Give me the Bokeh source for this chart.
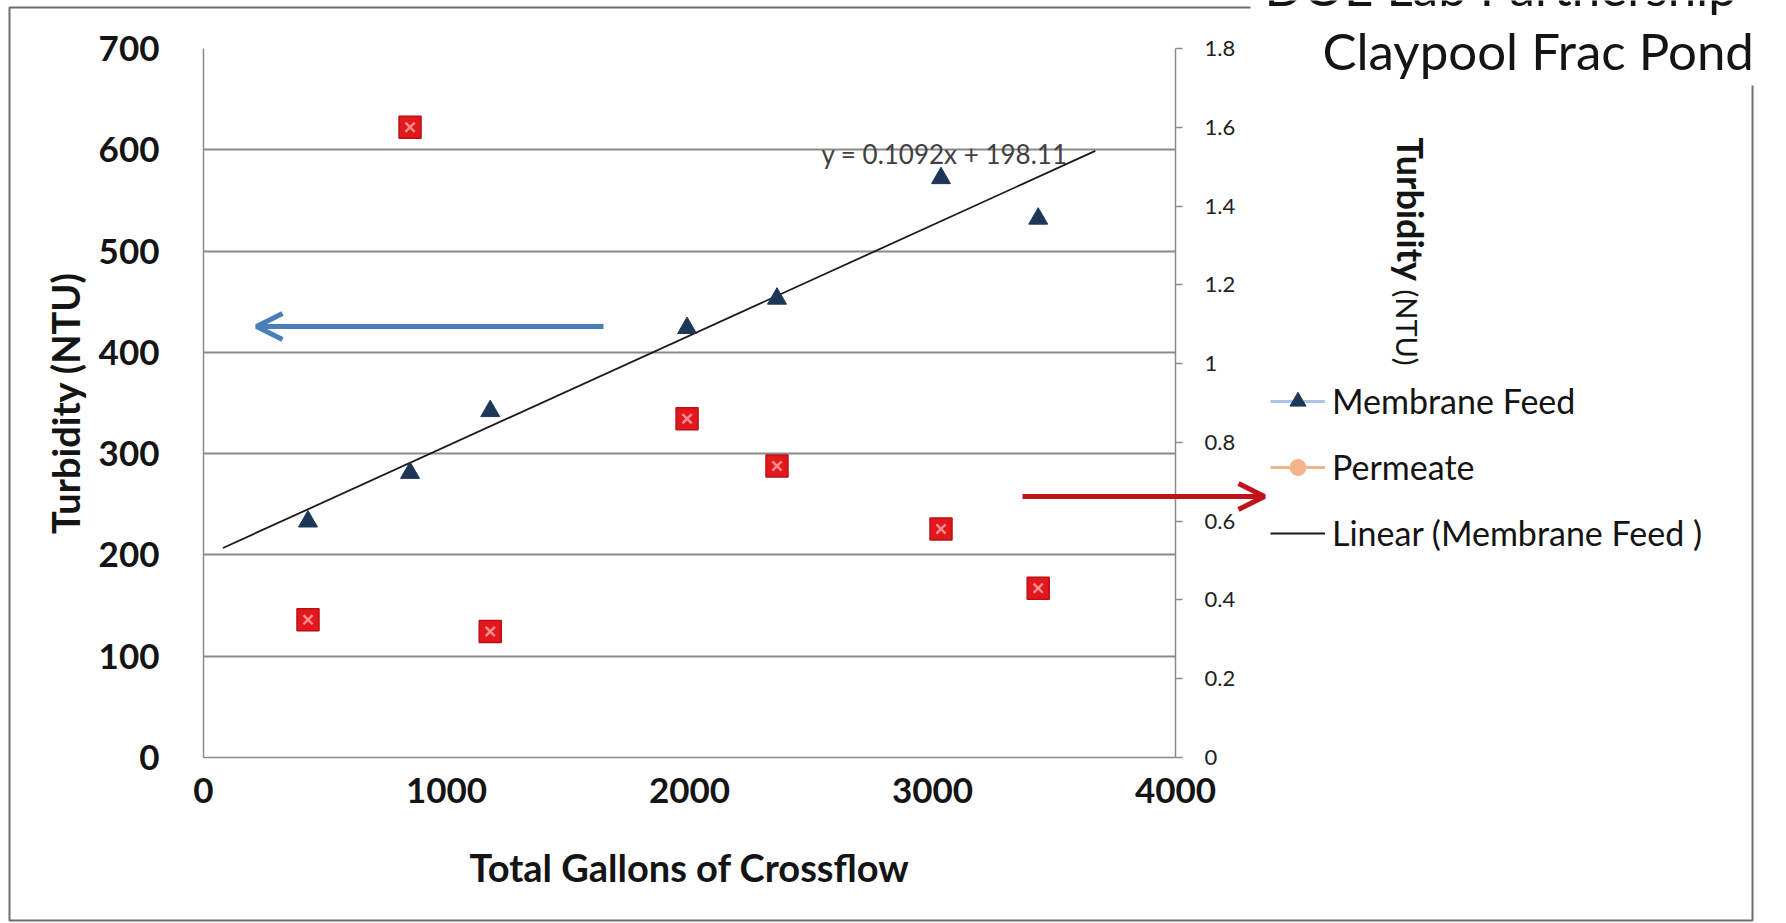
from bokeh.plotting import figure
from bokeh.models import (Range1d, LinearAxis, FixedTicker, Label, Arrow, OpenHead,
                          Legend, LegendItem, ColumnDataSource, GridBox, Column)
from bokeh.embed import file_html
from bokeh.resources import INLINE
import math

# ---------------- data ----------------
gallons = [430, 850, 1180, 1990, 2360, 3035, 3435]
membrane_feed = [233, 281, 342, 424, 453, 572, 532]          # NTU, left axis
permeate = [0.35, 1.60, 0.32, 0.86, 0.74, 0.58, 0.43]         # NTU, right axis
trend_slope = 0.1092
trend_intercept = 198.11
trend_x = [80, 3670]
x_ticks = [0, 1000, 2000, 3000, 4000]
x_tick_labels = ["0", "1000", "2000", "3000", "4000"]
left_ticks = [0, 100, 200, 300, 400, 500, 600, 700]
left_tick_labels = ["0", "100", "200", "300", "400", "500", "600", "700"]
right_ticks = [0, 0.2, 0.4, 0.6, 0.8, 1.0, 1.2, 1.4, 1.6, 1.8]
right_tick_labels = ["0", "0.2", "0.4", "0.6", "0.8", "1", "1.2", "1.4", "1.6", "1.8"]
legend_labels = ["Membrane Feed", "Permeate", "Linear (Membrane Feed )"]
trend_y = [trend_slope * v + trend_intercept for v in trend_x]

W, H = 1786, 923
FL, FR, FT, FB = 203, 1175, 48, 757   # frame in px
XMAX, YMAX, Y2MAX = 4000, 700, 1.8

def dx(px):
    return (px - FL) / (FR - FL) * XMAX

def dy(py):
    return (FB - py) / (FB - FT) * YMAX

FONT = "Lato"
GRID = "#8a8a8a"
INK = "#141414"

# ---------------- main chart ----------------
p = figure(width=W, height=H, output_backend="svg", toolbar_location=None,
           x_range=Range1d(0, XMAX), y_range=Range1d(0, YMAX),
           min_border_left=FL, min_border_right=W - FR, min_border_top=FT,
           min_border_bottom=H - FB, outline_line_color=None,
           background_fill_color="white", border_fill_color="white")
p.extra_y_ranges = {"right": Range1d(0, Y2MAX)}

p.xaxis.ticker = FixedTicker(ticks=x_ticks)
p.xaxis.major_label_overrides = {t: l for t, l in zip(x_ticks, x_tick_labels)}
p.yaxis.ticker = FixedTicker(ticks=left_ticks)
p.yaxis.major_label_overrides = {t: l for t, l in zip(left_ticks, left_tick_labels)}
for ax in (p.xaxis[0], p.yaxis[0]):
    ax.major_tick_line_color = None
    ax.minor_tick_line_color = None
    ax.axis_line_color = GRID
    ax.axis_line_width = 1.5
    ax.major_label_text_font = FONT
    ax.major_label_text_font_style = "bold"
    ax.major_label_text_font_size = "35px"
    ax.major_label_text_color = INK
    ax.axis_label_text_font = FONT
    ax.axis_label_text_font_style = "bold"
    ax.axis_label_text_font_size = "38px"
    ax.axis_label_text_color = INK
p.yaxis.major_label_standoff = 38
p.xaxis.major_label_standoff = 14
p.yaxis.axis_label = "Turbidity (NTU)"
p.xaxis.axis_label = "Total Gallons of Crossflow"
p.yaxis.axis_label_standoff = 8
p.xaxis.axis_label_standoff = 38

raxis = LinearAxis(y_range_name="right", ticker=FixedTicker(ticks=right_ticks))
raxis.major_label_overrides = {t: l for t, l in zip(right_ticks, right_tick_labels)}
raxis.axis_line_color = GRID
raxis.axis_line_width = 1.5
raxis.major_tick_line_color = GRID
raxis.major_tick_line_width = 1.5
raxis.major_tick_in = 0
raxis.major_tick_out = 7
raxis.minor_tick_line_color = None
raxis.major_label_standoff = 22
raxis.major_label_text_font = FONT
raxis.major_label_text_font_size = "22px"
raxis.major_label_text_color = "#222222"
p.add_layout(raxis, "right")

p.xgrid.grid_line_color = None
p.ygrid.ticker = FixedTicker(ticks=left_ticks[1:])
p.ygrid.grid_line_color = GRID
p.ygrid.grid_line_width = 1.8

p.line(trend_x, trend_y, line_color="#1a1a1a", line_width=1.8)
p.scatter(gallons, membrane_feed, marker="triangle", size=19,
          fill_color="#1d3757", line_color="#1d3757")
p.scatter(gallons, permeate, y_range_name="right", marker="square", size=22,
          fill_color="#e3181f", line_color="#b81015", line_width=1.5)
p.scatter(gallons, permeate, y_range_name="right", marker="x", size=13,
          line_color="#ff8f8f", line_width=2.4)

p.add_layout(Label(x=dx(944), y=dy(153), text="y = 0.1092x + 198.11",
                   text_align="center", text_baseline="middle", text_font=FONT,
                   text_font_size="26px", text_color="#404040"))

# ---------------- overlay (annotations outside the plot frame) ----------------
ov = figure(width=W, height=H, output_backend="svg", toolbar_location=None,
            x_range=Range1d(0, W), y_range=Range1d(H, 0),
            x_axis_type=None, y_axis_type=None, min_border=0,
            min_border_left=0, min_border_right=0, min_border_top=0, min_border_bottom=0,
            outline_line_color=None, background_fill_color=None,
            border_fill_color=None)
ov.grid.visible = False

# chart-area border
ov.line([1250, 9, 9, 1752, 1752], [7, 7, 920, 920, 85],
        line_color="#6e6e6e", line_width=2)

# arrows
ov.add_layout(Arrow(x_start=603, y_start=326, x_end=256, y_end=326,
                    line_color="#4a7ebb", line_width=5,
                    end=OpenHead(size=26, line_color="#4a7ebb", line_width=5)))
ov.add_layout(Arrow(x_start=1022, y_start=496, x_end=1264, y_end=496,
                    line_color="#c0141a", line_width=5,
                    end=OpenHead(size=26, line_color="#c0141a", line_width=5)))

# right axis title
ov.add_layout(Label(x=1410, y=137, text="Turbidity", angle=-math.pi / 2,
                    text_align="left", text_baseline="middle", text_font=FONT,
                    text_font_style="bold", text_font_size="36px", text_color=INK))
ov.add_layout(Label(x=1407, y=289, text="(NTU)", angle=-math.pi / 2,
                    text_align="left", text_baseline="middle", text_font=FONT,
                    text_font_size="29px", text_color=INK))

# titles (the upper one is cut by the top edge, as in the original)
ov.add_layout(Label(x=1264, y=-14, text="DOE Lab Partnership",
                    text_align="left", text_baseline="middle", text_font=FONT,
                    text_font_size="51px", text_color=INK))
ov.add_layout(Label(x=1322, y=50, text="Claypool Frac Pond",
                    text_align="left", text_baseline="middle", text_font=FONT,
                    text_font_size="51px", text_color=INK))

# legend (sample glyphs as drawn in the original legend)
off = ColumnDataSource(data=dict(x=[-1000], y=[-1000]))
lf_line = ov.line("x", "y", source=off, line_color="#a9c4e6", line_width=3)
lf_mark = ov.scatter("x", "y", source=off, marker="triangle", fill_color="#1d3757",
                     line_color="#1d3757")
pm_line = ov.line("x", "y", source=off, line_color="#f4b48a", line_width=3)
pm_mark = ov.scatter("x", "y", source=off, marker="circle", fill_color="#f4b48a",
                     line_color="#f4b48a")
ln_line = ov.line("x", "y", source=off, line_color="#1a1a1a", line_width=2)
legend = Legend(items=[
    LegendItem(label=legend_labels[0], renderers=[lf_line, lf_mark]),
    LegendItem(label=legend_labels[1], renderers=[pm_line, pm_mark]),
    LegendItem(label=legend_labels[2], renderers=[ln_line]),
], location=(1270, H - 553), orientation="vertical",
    glyph_width=55, glyph_height=40, label_height=40, spacing=25,
    label_standoff=7, padding=0, margin=0, border_line_color=None,
    background_fill_alpha=0, label_text_font=FONT, label_text_font_size="34px",
    label_text_color=INK)
ov.add_layout(legend, "center")

page = GridBox(children=[(p, 0, 0), (Column(children=[ov]), 0, 0)])
open("out.html", "w").write(file_html(page, INLINE))
